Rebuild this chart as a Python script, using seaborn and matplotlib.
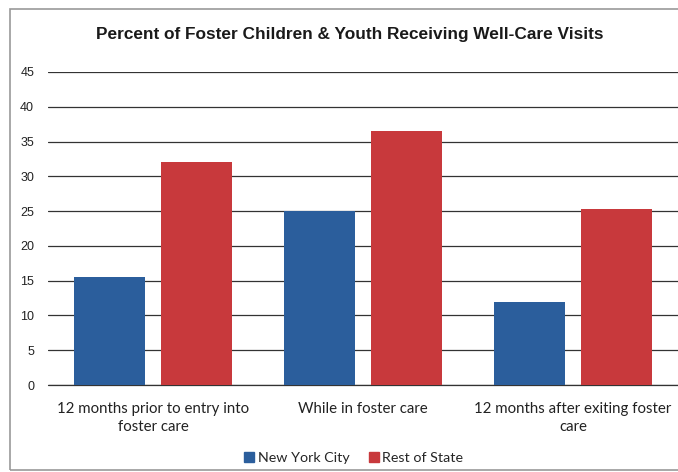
import matplotlib
matplotlib.use("Agg")
import matplotlib.pyplot as plt
import seaborn as sns
import pandas as pd
from matplotlib.patches import Rectangle
from matplotlib.lines import Line2D

categories = ["12 months prior to entry into\nfoster care", "While in foster care", "12 months after exiting foster\ncare"]
series = ["New York City", "Rest of State"]
nyc_values = [15.5, 25.0, 11.9]
ros_values = [32.0, 36.5, 25.3]
colors = ["#2B5E9C", "#C8393C"]

df = pd.DataFrame({
    "category": categories * 2,
    "series": [series[0]] * 3 + [series[1]] * 3,
    "value": nyc_values + ros_values,
})

sns.set_style("white")
fig = plt.figure(figsize=(6.78, 4.72), dpi=100)
ax = fig.add_axes([48 / 678, 1 - 385 / 472, 1 - 48 / 678, (385 - 72) / 472])

sns.barplot(data=df, x="category", y="value", hue="series", palette=colors,
            width=0.83, gap=0.19, ax=ax, legend=False, saturation=1,
            edgecolor="none", linewidth=0, err_kws={"linewidth": 0})

ax.set_xlim(-0.5, 2.5)
ax.set_ylim(0, 45)
ax.set_yticks(range(0, 46, 5))
ax.yaxis.grid(True, color="#333333", linewidth=0.9)
ax.set_axisbelow(True)
ax.axhline(0, color="#333333", linewidth=0.9, clip_on=False, zorder=0.5)
for s in ax.spines.values():
    s.set_visible(False)
ax.set_xlabel("")
ax.set_ylabel("")
ax.tick_params(axis="y", length=0, pad=10, labelsize=9, labelcolor="#222222")
ax.tick_params(axis="x", length=0, pad=12, labelsize=10.8, labelcolor="#222222")
for t in ax.get_yticklabels():
    t.set_family("Liberation Sans")
for t in ax.get_xticklabels():
    t.set_family("Lato")
    t.set_linespacing(1.35)

fig.text(0.516, 1 - 35 / 472, "Percent of Foster Children & Youth Receiving Well-Care Visits",
         ha="center", va="center", fontsize=12.4, fontweight="bold",
         family="Liberation Sans", color="#1a1a1a")

handles = [Line2D([], [], marker="s", linestyle="", markersize=7, color=c) for c in colors]
fig.legend(handles, series, loc="center", bbox_to_anchor=(0.52, 1 - 458 / 472), ncol=2,
           frameon=False, prop={"family": "Lato", "size": 10.3}, handletextpad=0.1,
           columnspacing=1.2, handlelength=1.0)

fig.patches.append(Rectangle((10 / 678, 1 - 470 / 472), 1.1, (470 - 9) / 472,
                             transform=fig.transFigure, fill=False,
                             edgecolor="#999999", linewidth=1.2))

fig.savefig("out.png", dpi=100)
